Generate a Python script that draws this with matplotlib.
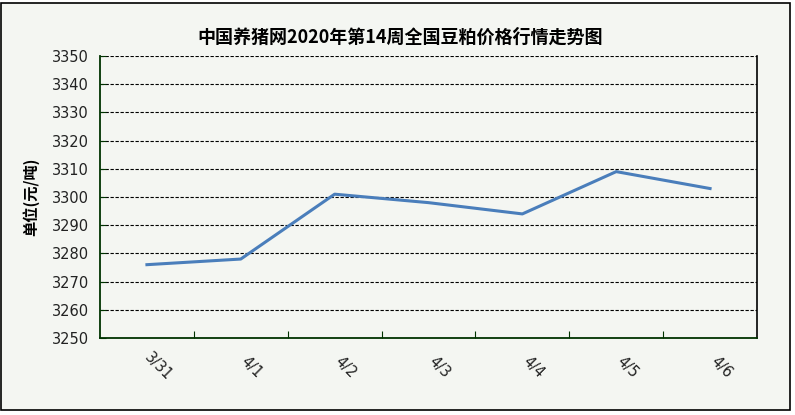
import numpy as np
import matplotlib
matplotlib.use("Agg")
import matplotlib.pyplot as plt
from matplotlib.patches import Rectangle

plt.rcParams['font.family'] = ['Noto Sans CJK SC', 'DejaVu Sans']

dates = ["3/31", "4/1", "4/2", "4/3", "4/4", "4/5", "4/6"]
prices = [3276, 3278, 3301, 3298, 3294, 3309, 3303]
yticks = list(range(3250, 3351, 10))

BG = "#f4f6f2"
AXIS = "#003300"

fig = plt.figure(figsize=(7.95, 4.15), dpi=100)
fig.patch.set_facecolor("white")
# outer chart frame, kept behind the axes
fig.patches.append(Rectangle((1 / 795, 1 - 410 / 415), 789 / 795, 407 / 415,
                             transform=fig.transFigure, facecolor=BG,
                             edgecolor="black", lw=1.2, zorder=-5))

ax = fig.add_axes([100 / 795, 1 - 338 / 415, 657 / 795, 282 / 415])
ax.set_facecolor(BG)
x = np.arange(len(dates))
ax.plot(x, prices, color="#4a7ebb", lw=2.2, zorder=3)

ax.set_xlim(-0.5, len(dates) - 0.5)
ax.set_ylim(3250, 3350)
ax.set_yticks(yticks)
ax.set_yticklabels([str(v) for v in yticks], fontsize=10.5, family="DejaVu Sans",
                   color="#222222")
for v in yticks[1:]:
    ax.axhline(v, color="black", lw=0.8, ls=(0, (3, 1.5)), zorder=1)

# ticks sit between categories; category labels drawn slanted below
ax.set_xticks(np.arange(len(dates) - 1) + 0.5)
ax.set_xticklabels([])
for xi, d in zip(x, dates):
    ax.annotate(d, xy=(xi, 0), xycoords=("data", "axes fraction"),
                xytext=(11, -29), textcoords="offset pixels",
                rotation=-45, rotation_mode="default", ha="center", va="center",
                fontsize=10.5, family="DejaVu Sans", color="#222222",
                annotation_clip=False)
ax.tick_params(axis="x", which="major", direction="in", length=5, color=AXIS)
ax.tick_params(axis="y", direction="in", length=4, color=AXIS, pad=8)

ax.spines["top"].set_visible(False)
ax.spines["left"].set_color(AXIS)
ax.spines["bottom"].set_color(AXIS)
ax.spines["left"].set_linewidth(1.3)
ax.spines["bottom"].set_linewidth(1.3)
ax.spines["right"].set_color("black")
ax.spines["right"].set_linewidth(1.2)

fig.text(400 / 795, 1 - 37 / 415, "中国养猪网2020年第14周全国豆粕价格行情走势图",
         ha="center", va="center", fontsize=13, fontweight="bold")
fig.text(31 / 795, 1 - 197 / 415, "单位(元/吨)", rotation=90,
         ha="center", va="center", fontsize=11, fontweight="bold")

fig.savefig("out.png", dpi=100, facecolor="white")
